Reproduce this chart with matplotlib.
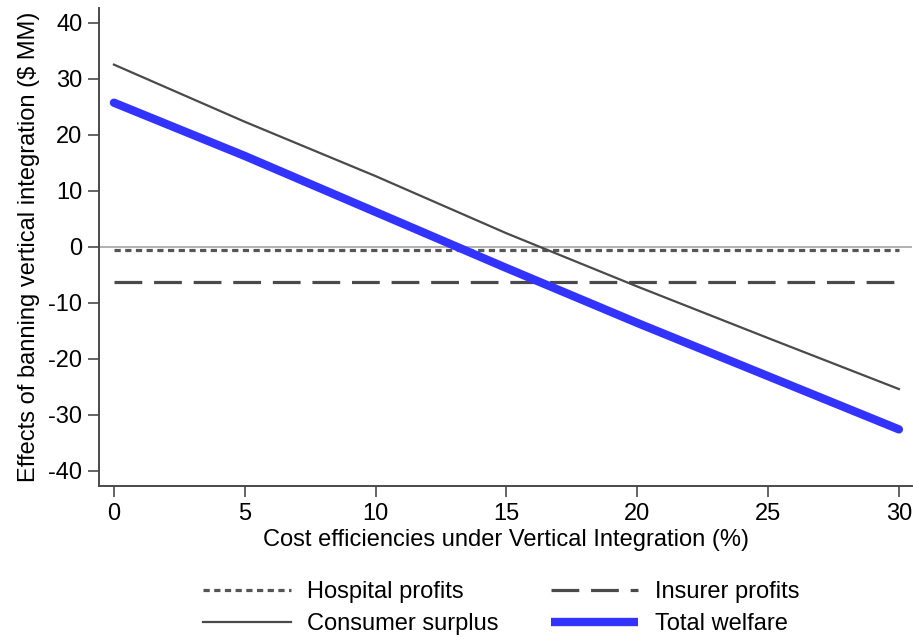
import matplotlib
matplotlib.use("Agg")
import matplotlib.pyplot as plt

plt.rcParams['font.family'] = ['Liberation Sans', 'DejaVu Sans']
plt.rcParams['lines.scale_dashes'] = False

x = [0, 5, 10, 15, 20, 25, 30]
hospital = [-0.5, -0.5, -0.5, -0.5, -0.5, -0.5, -0.5]
insurer = [-6.3, -6.3, -6.3, -6.3, -6.3, -6.3, -6.3]
consumer = [32.5, 22.3, 12.6, 2.4, -7.1, -16.3, -25.4]
total = [25.7, 16.2, 6.2, -3.8, -13.6, -23.1, -32.6]

xticks = [0, 5, 10, 15, 20, 25, 30]
yticks = [40, 30, 20, 10, 0, -10, -20, -30, -40]

fig = plt.figure(figsize=(9.13, 6.37), dpi=100)
ax = fig.add_axes([99/913, 1-486/637, (912-99)/913, (486-8)/637])

gray = '#4a4a4a'
ax.axhline(0, color='#aaaaaa', lw=1.3, zorder=1)
l1, = ax.plot(x, hospital, color='#555555', lw=2.3, dashes=(4.5, 3.2), label='Hospital profits', dash_capstyle='butt')
l2, = ax.plot(x, insurer, color=gray, lw=2.3, dashes=(20, 8.5), label='Insurer profits', dash_capstyle='butt')
l3, = ax.plot(x, consumer, color=gray, lw=1.6, label='Consumer surplus')
l4, = ax.plot(x, total, color='#3333ff', lw=6, label='Total welfare', solid_capstyle='round')

ax.set_xlim(-0.57, 30.5)
ax.set_ylim(-42.7, 42.6)
ax.set_xticks(xticks)
ax.set_yticks(yticks)
ax.set_yticklabels([str(v) for v in yticks])
for s in ['top', 'right']:
    ax.spines[s].set_visible(False)
for s in ['left', 'bottom']:
    ax.spines[s].set_color(gray)
    ax.spines[s].set_linewidth(1.4)
ax.tick_params(axis='both', labelsize=17, color=gray, width=1.2, length=8, pad=4)
ax.set_xlabel('Cost efficiencies under Vertical Integration (%)', fontsize=17, labelpad=3)
ax.set_ylabel('Effects of banning vertical integration ($ MM)', fontsize=17, labelpad=6)

# legend filled row-wise like the reference
h = [l1, l3, l2, l4]
lab = [hh.get_label() for hh in h]
leg = fig.legend(h, lab, loc='lower center', bbox_to_anchor=(0.549, -0.03), ncol=2, frameon=False,
                 fontsize=17, handlelength=3.7, columnspacing=2.2, labelspacing=0.42, handletextpad=0.7)
leg.get_lines()[3].set_solid_capstyle('butt')

fig.savefig('out.png', dpi=100)
